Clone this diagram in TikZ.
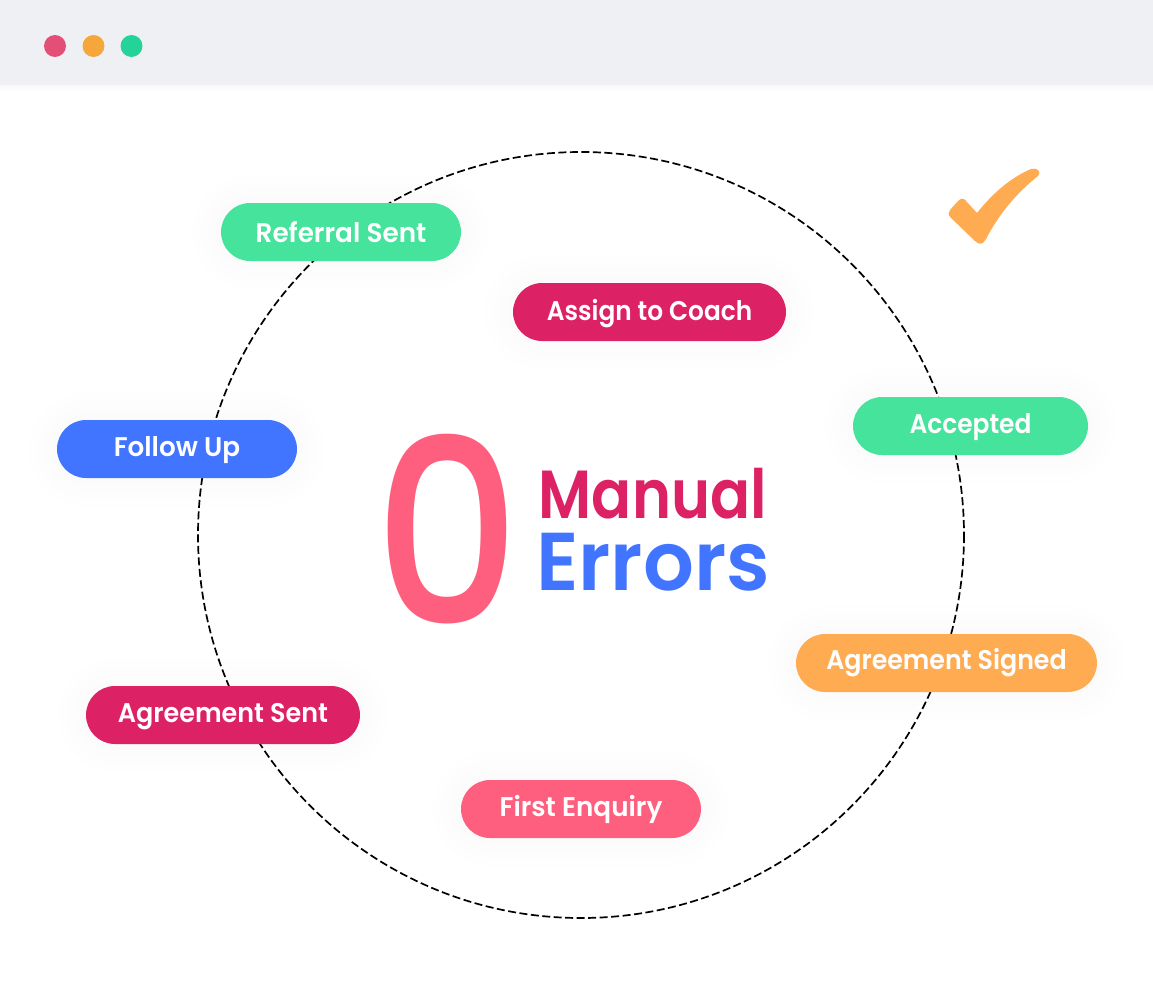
\documentclass[tikz,border=0pt]{standalone}
\usepackage{fontspec}
\setmainfont{Poppins}
\newfontfamily\pillfont{Poppins SemiBold}
\newfontfamily\zerofont{Poppins Medium}
\usetikzlibrary{shapes.misc}
\definecolor{headgray}{HTML}{EFF0F4}
\definecolor{rosepink}{HTML}{FF5F7E}
\definecolor{crimson}{HTML}{DC2264}
\definecolor{royal}{HTML}{4174FF}
\definecolor{mint}{HTML}{46E39C}
\definecolor{amber}{HTML}{FFAB52}
\definecolor{dotred}{HTML}{E44F77}
\definecolor{dotorange}{HTML}{F6A73B}
\definecolor{dotgreen}{HTML}{23D398}
\tikzset{
	pill/.style={rounded rectangle,minimum height=58pt,inner sep=0pt,text=white,
		text height=14pt,text depth=0pt,
		font=\pillfont\fontsize{27}{27}\selectfont,
		preaction={draw=black,opacity=0.004,line width=56pt},
		preaction={draw=black,opacity=0.004,line width=40pt},
		preaction={draw=black,opacity=0.004,line width=26pt},
		preaction={draw=black,opacity=0.004,line width=12pt}},
	dot/.style={circle,minimum size=22pt,inner sep=0pt},
}
\newcommand{\pilltext}[2]{\scalebox{#1}[1]{#2}}
\begin{document}
\begin{tikzpicture}[x=1pt,y=-1pt]
	\useasboundingbox (0,0) rectangle (1153,1001);
	\coordinate (O) at (581,535);
	% window bar
	\foreach \d in {1,...,7}
		\fill[black,opacity=0.004] (0,85) rectangle (1153,85+\d);
	\fill[headgray] (0,0) rectangle (1153,85);
	\node[dot,fill=dotred] (D1) at (55,46) {};
	\node[dot,fill=dotorange] (D2) at (93.5,46) {};
	\node[dot,fill=dotgreen] (D3) at (131.5,46) {};
	% ring
	\draw[black,line width=1.7pt,dash pattern=on 8pt off 3.5pt] (O) circle (383);
	% tick
	\fill[amber] (977,213)
		.. controls (992,194) and (1010,178) .. (1031,169)
		.. controls (1037,167) and (1042,172) .. (1038,176)
		.. controls (1018,192) and (1000,212) .. (986,239)
		.. controls (983,245) and (979,245) .. (975,241)
		-- (951,218)
		.. controls (948,215) and (948,212) .. (950,210)
		-- (958,201)
		.. controls (961,198) and (964,198) .. (966,201)
		-- cycle;
	% labels
	\node[pill,fill=mint,minimum width=240pt,text height=20pt] (R) at (341,232) {\pilltext{0.973}{Referral Sent}};
	\node[pill,fill=crimson,minimum width=273pt,text height=16pt] (C) at (649.5,312) {\pilltext{0.92}{Assign to Coach}};
	\node[pill,fill=mint,minimum width=235pt] (A) at (970.5,426) {\pilltext{0.922}{Accepted}};
	\node[pill,fill=royal,minimum width=240pt] (F) at (177,449) {\pilltext{0.971}{Follow Up}};
	\node[pill,fill=amber,minimum width=301pt,text height=13pt] (G) at (946.5,663) {\pilltext{0.937}{Agreement Signed}};
	\node[pill,fill=crimson,minimum width=274pt] (S) at (223,715) {\pilltext{0.942}{Agreement Sent}};
	\node[pill,fill=rosepink,minimum width=240pt] (E) at (581,809) {\pilltext{0.972}{First Enquiry}};
	% middle
	\node[text=rosepink,inner sep=0pt] (Z) at (447.5,529.5) {\zerofont\resizebox{146pt}{190pt}{0}};
	\node[text=crimson,inner sep=0pt,anchor=base west] (M) at (538.5,518) {\pillfont\fontsize{68}{68}\selectfont\scalebox{0.87}[1]{Manual}};
	\node[text=royal,inner sep=0pt,anchor=base west] (T) at (536,590) {\pillfont\fontsize{82}{82}\selectfont\scalebox{0.973}[1]{Errors}};
\end{tikzpicture}
\end{document}
